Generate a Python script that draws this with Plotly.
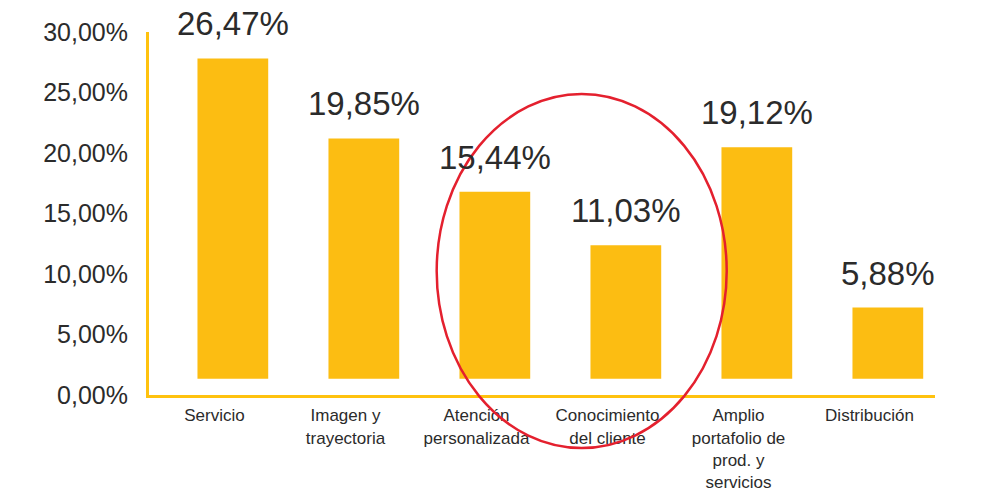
import plotly.graph_objects as go

# Atributos valorados (porcentaje de respuestas)
categorias = [
    "Servicio",
    "Imagen y<br>trayectoria",
    "Atención<br>personalizada",
    "Conocimiento<br>del cliente",
    "Amplio<br>portafolio de<br>prod. y<br>servicios",
    "Distribución",
]
porcentajes = [26.47, 19.85, 15.44, 11.03, 19.12, 5.88]
marcas_eje_y = [0, 5, 10, 15, 20, 25, 30]

AMARILLO = "#FCBD12"
EJE = "#FFC20E"
TEXTO = "#2B2B2B"
FUENTE = "Liberation Sans, Arial, sans-serif"

BASE = 1.35          # las barras arrancan ligeramente sobre el eje
ANCHO = 0.54
DESPLAZ = 0.14       # barras corridas a la derecha de su rótulo


def pct(v):
    return f"{v:.2f}".replace(".", ",") + "%"


fig = go.Figure()
fig.add_trace(go.Bar(
    x=categorias,
    y=porcentajes,
    base=BASE,
    width=ANCHO,
    offset=DESPLAZ - ANCHO / 2,
    marker=dict(color=AMARILLO, line=dict(width=0)),
    hoverinfo="skip",
))

# Etiquetas de valor sobre cada barra
for i, v in enumerate(porcentajes):
    fig.add_annotation(
        x=i + DESPLAZ, y=BASE + v, xref="x", yref="y",
        text=pct(v), showarrow=False,
        yanchor="bottom", yshift=14,
        font=dict(size=33, color=TEXTO, family=FUENTE),
    )

# Óvalo que resalta atención personalizada y conocimiento del cliente
fig.add_shape(
    type="circle", xref="paper", yref="paper",
    x0=0.366, x1=0.735, y0=-0.146, y1=0.829,
    line=dict(color="#E4202E", width=2.5),
    fillcolor="rgba(0,0,0,0)", layer="above",
)

fig.update_layout(
    width=986, height=494,
    margin=dict(l=149, r=51, t=32, b=99),
    paper_bgcolor="white", plot_bgcolor="white",
    separators=",.",
    showlegend=False,
    font=dict(family=FUENTE, color=TEXTO),
    bargap=0.46,
)
fig.update_xaxes(
    type="category",
    range=[-0.5, 5.5],
    automargin=False,
    showline=True, linecolor=EJE, linewidth=3,
    showgrid=False, zeroline=False, ticks="",
    ticklabelstandoff=3,
    tickfont=dict(size=17, color=TEXTO, family=FUENTE),
    tickangle=0,
)
fig.update_yaxes(
    range=[0, 30],
    automargin=False,
    tickvals=marcas_eje_y,
    ticktext=[pct(t) for t in marcas_eje_y],
    showline=True, linecolor=EJE, linewidth=3,
    showgrid=False, zeroline=False, ticks="",
    ticklabelstandoff=13,
    tickfont=dict(size=25, color=TEXTO, family=FUENTE),
)

fig.write_html("out.html")
